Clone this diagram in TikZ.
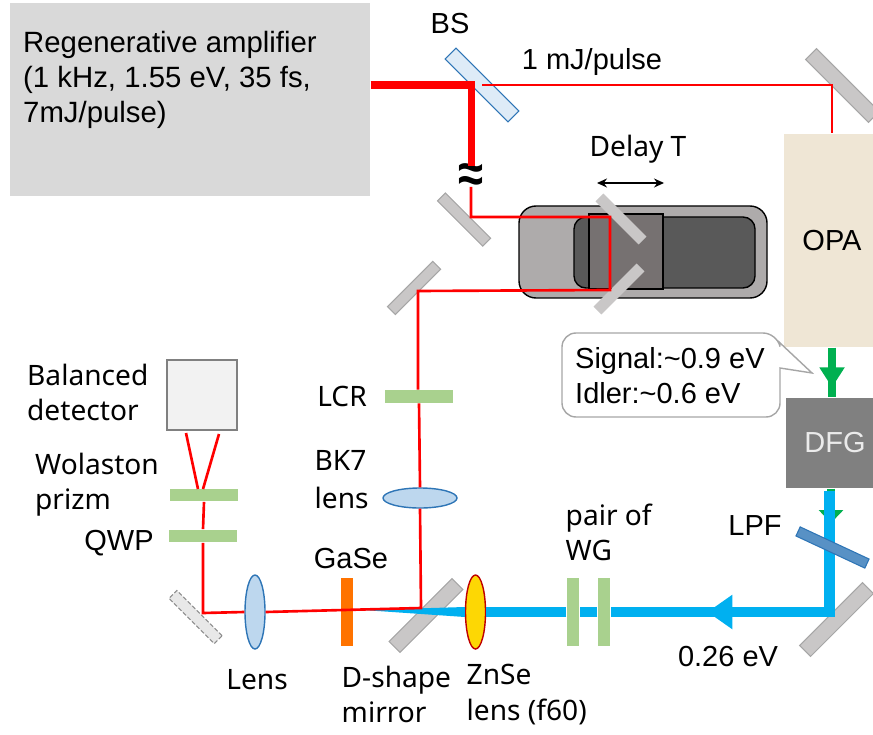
\documentclass[tikz,border=0pt]{standalone}
\usepackage{fontspec}
\setmainfont{Liberation Sans}
\newfontfamily\gothic{Noto Sans}
\usetikzlibrary{positioning, calc, shapes.geometric, arrows.meta, decorations.markings}
\definecolor{RedBeam}{HTML}{FF0000}
\definecolor{BlueBeam}{HTML}{00B0F0}
\definecolor{GreenBeam}{HTML}{00B050}
\definecolor{PlateGreen}{HTML}{A9D18E}
\definecolor{MirrorGray}{HTML}{C9C7C7}
\definecolor{LensBlue}{HTML}{BDD7EE}
\definecolor{LensEdge}{HTML}{2E75B6}
\definecolor{SplitterBlue}{HTML}{DEEBF7}
\definecolor{OpaBeige}{HTML}{EFE6D5}
\definecolor{StageOuter}{HTML}{AEABAB}
\definecolor{StageInner}{HTML}{595959}
\definecolor{StageTop}{HTML}{767171}
\tikzstyle{Label} = [inner sep=0.1mm, align=left, font=\fontsize{8.25}{10}\selectfont]
\tikzstyle{GLabel} = [inner sep=0.1mm, align=left, font=\gothic\fontsize{8}{10}\selectfont]
\tikzstyle{Mirror} = [draw=gray!70, line width=0.3pt, fill=MirrorGray, inner sep=0, minimum width=0.64cm, minimum height=0.11cm]
\tikzstyle{BigMirror} = [Mirror, minimum width=0.89cm, minimum height=0.155cm]
\tikzstyle{Plate} = [fill=PlateGreen, inner sep=0, minimum width=0.68cm, minimum height=0.125cm]
\tikzstyle{Lens} = [ellipse, draw=LensEdge, line width=0.4pt, fill=LensBlue, inner sep=0, minimum width=0.2cm, minimum height=0.74cm]
\tikzstyle{Thin} = [RedBeam, line width=0.75pt]
\tikzstyle{Thick} = [RedBeam, line width=2pt, line join=miter]
\tikzstyle{Blue} = [BlueBeam, line width=3.1pt, line join=miter]
\tikzstyle{Green} = [GreenBeam, line width=2.3pt]
\tikzstyle{GreenArrow} = [Green,
decoration={
markings,
mark=at position 0.8 with {
\arrow{Triangle[length=0.2cm, width=0.24cm]}}},
postaction = {decorate}]
\tikzstyle{BlueArrow} = [Blue,
decoration={
markings,
mark=at position 0.558 with {
\arrow{Triangle[length=0.25cm, width=0.33cm]}}},
postaction = {decorate}]
\begin{document}
\begin{tikzpicture}
    \clip (0,0) rectangle (8.73,-7.34);
    \node [fill=gray!30, inner sep=0, minimum width=3.60cm, minimum height=1.93cm](regen) at (1.90,-0.995){};
    \node [Label, font=\fontsize{8.35}{10}\selectfont, anchor=west](regentext) at (0.215,-0.80){Regenerative amplifier\\(1 kHz, 1.55 eV, 35 fs,\\7mJ/pulse)};
    \node [Label](bslabel) at (4.50,-0.24){BS};
    \node [Label](energy) at (5.92,-0.62){1 mJ/pulse};
    \node [Mirror, draw=LensEdge, fill=SplitterBlue, minimum width=0.89cm, minimum height=0.155cm, rotate=-45](bs) at (4.82,-0.85){};
    \node [BigMirror, rotate=-45](mone) at (8.425,-0.855){};
    \node [Mirror, rotate=-45](mtwo) at (4.64,-2.195){};
    \node [Mirror, rotate=45](mthree) at (4.14,-2.88){};

    \node [draw=black, line width=0.4pt, fill=StageOuter, rounded corners=0.17cm, inner sep=0, minimum width=2.48cm, minimum height=0.92cm](stage) at (6.43,-2.52){};
    \node [draw=black, line width=0.4pt, fill=StageInner, rounded corners=0.12cm, inner sep=0, minimum width=1.81cm, minimum height=0.71cm](track) at (6.645,-2.525){};
    \node [draw=black, line width=0.4pt, fill=StageTop, inner sep=0, minimum width=0.74cm, minimum height=0.75cm](carriage) at (6.26,-2.515){};
    \node [Mirror, draw=none, minimum width=0.61cm, rotate=-45](delayup) at (6.21,-2.19){};
    \node [Mirror, draw=none, minimum width=0.61cm, rotate=45](delaydown) at (6.19,-2.89){};
    \node [GLabel](delay) at (6.38,-1.49){Delay T};
    \coordinate (dleft) at (5.97,-1.83);
    \coordinate (dright) at (6.64,-1.83);
    \draw [{Stealth[length=0.1cm, width=0.09cm]}-{Stealth[length=0.1cm, width=0.09cm]}, line width=0.35pt] (dleft) to (dright);

    \node [fill=OpaBeige, inner sep=0, minimum width=0.96cm, minimum height=2.13cm](opa) at (8.32,-2.405){};
    \node [Label](opalabel) at (opa){OPA};
    \node [fill=black!50, text=white!92!black, font=\fontsize{8.25}{10}\selectfont, inner sep=0, minimum width=0.98cm, minimum height=0.90cm](dfg) at (8.35,-4.43){DFG};

    \draw [gray!70, line width=0.4pt, fill=white, rounded corners=0.14cm] (7.80,-3.68) -- (7.80,-4.17) -- (5.62,-4.17) -- (5.62,-3.33) -- (7.77,-3.33) [sharp corners] -- (7.79,-3.42) -- (8.12,-3.73) -- cycle;
    \node [Label, anchor=west](signal) at (5.735,-3.755){Signal:\textasciitilde0.9 eV\\Idler:\textasciitilde0.6 eV};

    \node [Plate](lcr) at (4.19,-3.965){};
    \node [Lens, minimum width=0.74cm, minimum height=0.2cm](bk) at (4.20,-4.98){};
    \node [GLabel](lcrlabel) at (3.42,-3.96){LCR};
    \node [GLabel, anchor=west](bklabel) at (3.13,-4.795){BK7\\[0.3mm]lens};

    \node [draw=gray, line width=0.6pt, fill=black!5, inner sep=0, minimum width=0.70cm, minimum height=0.70cm](det) at (2.02,-3.95){};
    \node [GLabel, anchor=west](detlabel) at (0.255,-3.925){Balanced\\detector};
    \node [Plate](wol) at (2.04,-4.95){};
    \node [Plate](qwp) at (2.03,-5.36){};
    \node [GLabel, anchor=west](wollabel) at (0.335,-4.85){Wolaston\\prizm};
    \node [Label](qwplabel) at (1.19,-5.43){QWP};

    \node [Mirror, draw=gray!90, dash pattern=on 1.2pt off 0.6pt, fill=black!9, rotate=-45](mdash) at (1.955,-6.17){};
    \node [Lens](lens) at (2.55,-6.12){};
    \node [GLabel](lenslabel) at (2.57,-6.80){Lens};
    \node [fill=orange!90!red, inner sep=0, minimum width=0.12cm, minimum height=0.68cm](gase) at (3.47,-6.12){};
    \node [Label](gaselabel) at (3.51,-5.59){GaSe};
    \node [BigMirror, rotate=45](dmirror) at (4.26,-6.155){};
    \node [GLabel, anchor=west](dlabel) at (3.40,-6.945){D-shape\\mirror};
    \node [Lens, draw=red!75!black, fill=yellow!75!orange](znse) at (4.755,-6.12){};
    \node [GLabel, anchor=west](znlabel) at (4.65,-6.945){ZnSe\\lens (f60)};
    \node [Plate, minimum width=0.12cm, minimum height=0.68cm](wga) at (5.73,-6.12){};
    \node [Plate, minimum width=0.12cm, minimum height=0.68cm](wgb) at (6.04,-6.12){};
    \node [GLabel, anchor=west](wglabel) at (5.64,-5.325){pair of\\WG};
    \node [BigMirror, rotate=45](mfour) at (8.365,-6.195){};
    \node [Label](lpflabel) at (7.55,-5.26){LPF};
    \node [Label](evlabel) at (7.28,-6.57){0.26 eV};

    \node [font=\fontsize{12}{12}\selectfont, inner sep=0](tilde) at (4.71,-1.785){\scalebox{1.08}[1.3]{\textbf{≈}}};

    \coordinate (bsturn) at (4.71,-0.85);
    \coordinate (thickend) at (4.71,-1.66);
    \coordinate (thinstart) at (4.71,-1.87);
    \coordinate (hitone) at (8.32,-0.85);
    \coordinate (hittwo) at (4.71,-2.17);
    \coordinate (delaya) at (6.10,-2.17);
    \coordinate (delayb) at (6.10,-2.90);
    \coordinate (hitthree) at (4.18,-2.91);
    \coordinate (dhit) at (4.21,-6.08);
    \coordinate (dashhit) at (2.03,-6.13);
    \coordinate (va) at (1.98,-4.89);
    \coordinate (vb) at (1.86,-4.33);
    \coordinate (vc) at (2.03,-4.89);
    \coordinate (vd) at (2.19,-4.34);
    \coordinate (bluetop) at (8.296,-4.91);
    \coordinate (bluehit) at (8.296,-6.12);
    \coordinate (greenend) at (8.31,-5.23);

    \draw [Thin] (bs.center) to (hitone) to (hitone |- opa.north);
    \draw [Thin] (thinstart) to (hittwo) to (delaya) to (delayb) to (hitthree) to (hitthree |- lcr.north);
    \draw [Thin] (lcr.south) to (bk.north);
    \draw [Thick] (regen.east |- bsturn) to (bsturn) to (thickend);

    \draw [GreenArrow] (opa.south) to (opa.south |- dfg.north);
    \draw [Green, -{Triangle[length=0.13cm, width=0.24cm]}] (greenend |- dfg.south) to (greenend);
    \draw [Blue] (bluetop) to (bluehit) to (wgb.east);
    \draw [BlueArrow] (bluehit) to (wgb.east);
    \draw [Blue] (wgb.west) to (wga.east);
    \draw [Blue] (wga.west) to (znse.east);
    \fill [BlueBeam] ($(znse.west)+(0,0.05)$) to (3.63,-6.10) to ($(znse.west)+(0,-0.05)$) to cycle;

    \node [Mirror, draw=LensEdge, fill=LensEdge!80!white, minimum width=0.76cm, minimum height=0.1cm, rotate=-25](lpf) at (8.325,-5.475){};

    \draw [Thin] (bk.south) to (dhit) to (lens.east);
    \draw [Thin] (lens.west) to (dashhit) to (dashhit |- qwp.south);
    \draw [Thin] (qwp.north) to (wol.south);
    \draw [Thin] (va) to (vb);
    \draw [Thin] (vc) to (vd);
\end{tikzpicture}
\end{document}
